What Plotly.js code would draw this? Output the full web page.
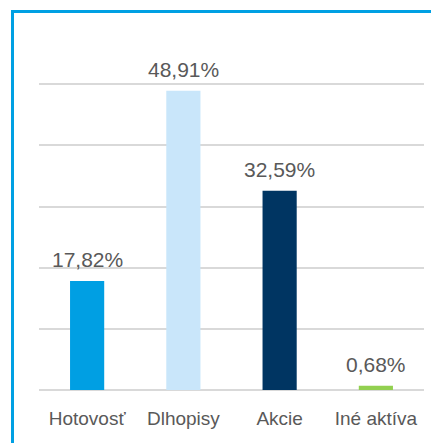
<!DOCTYPE html>
<html>
<head>
<meta charset="utf-8">
<script src="https://cdn.plot.ly/plotly-3.0.1.min.js"></script>
<style>
html,body{margin:0;padding:0;background:#fff;overflow:hidden;}
#frame{position:absolute;left:11px;top:10px;width:500px;height:500px;border-left:3px solid #00A0E3;border-top:3px solid #00A0E3;box-sizing:border-box;}
#chart{position:absolute;left:0;top:0;width:431px;height:443px;}
</style>
</head>
<body>
<div id="frame"></div>
<div id="chart"></div>
<script>
const categories = ["Hotovosť", "Dlhopisy", "Akcie", "Iné aktíva"];
const values = [17.82, 48.91, 32.59, 0.68];
const valueLabels = ["17,82%", "48,91%", "32,59%", "0,68%"];
const barColors = ["#009FE3", "#C9E6FA", "#003562", "#92D050"];

const trace = {
  type: "bar",
  x: categories,
  y: values,
  marker: {color: barColors},
  hoverinfo: "none"
};

const annotations = categories.map((c, i) => ({
  x: c, y: values[i], xref: "x", yref: "y",
  text: valueLabels[i], showarrow: false,
  yanchor: "bottom", yshift: 8,
  font: {family: "Liberation Sans, Arial, sans-serif", size: 21, color: "#595959"}
}));

const layout = {
  width: 431, height: 443,
  margin: {l: 39, r: 7, t: 23, b: 53},
  paper_bgcolor: "rgba(0,0,0,0)",
  plot_bgcolor: "rgba(0,0,0,0)",
  showlegend: false,
  bargap: 0.645,
  xaxis: {
    type: "category",
    showgrid: false, zeroline: false, showline: false,
    ticks: "", ticklabelstandoff: 15,
    tickfont: {family: "Liberation Sans, Arial, sans-serif", size: 19, color: "#595959"}
  },
  yaxis: {
    range: [0, 60], dtick: 10, showticklabels: false,
    gridcolor: "#D9D9D9", gridwidth: 2,
    zeroline: true, zerolinecolor: "#D9D9D9", zerolinewidth: 2,
    showline: false, ticks: ""
  },
  annotations: annotations
};

Plotly.newPlot("chart", [trace], layout, {displayModeBar: false, staticPlot: true});
</script>
</body>
</html>
